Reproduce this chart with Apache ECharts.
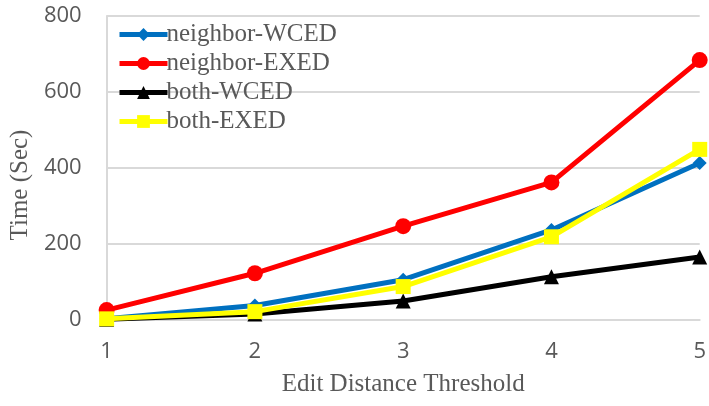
<!DOCTYPE html>
<html><head><meta charset="utf-8">
<script src="https://cdn.jsdelivr.net/npm/echarts@6/dist/echarts.min.js"></script>
<style>html,body{margin:0;padding:0;background:#fff}#c{width:709px;height:406px}</style>
</head><body><div id="c"></div>
<script>
const categories = ['1','2','3','4','5'];
const neighborWCED = [3, 38, 106, 237, 413];
const neighborEXED = [26, 123, 247, 362, 684];
const bothWCED = [2, 16, 50, 114, 166];
const bothEXED = [3, 22, 88, 219, 449];
const yTicks = {min: 0, max: 800, interval: 200};

const chart = echarts.init(document.getElementById('c'));
function mk(name, data, color, symbol, size) {
  return {name, type: 'line', data, symbol, symbolSize: size,
    lineStyle: {color, width: 5}, itemStyle: {color}, z: 2};
}
chart.setOption({
  animation: false,
  grid: {left: 100, right: 8, top: 16, bottom: 86},
  legend: {
    left: 112, top: 17, orient: 'vertical', itemGap: 4,
    itemWidth: 48, itemHeight: 16,
    lineStyle: {width: 5},
    textStyle: {fontFamily: 'Liberation Serif', fontSize: 25, color: '#595959', padding: [0,0,0,-6]},
    data: ['neighbor-WCED','neighbor-EXED','both-WCED','both-EXED']
  },
  xAxis: {
    type: 'category', data: categories, boundaryGap: false,
    name: 'Edit Distance Threshold', nameLocation: 'middle', nameGap: 52,
    nameTextStyle: {fontFamily: 'Liberation Serif', fontSize: 25, color: '#595959'},
    axisLine: {lineStyle: {color: '#d9d9d9', width: 2}},
    axisTick: {show: false},
    axisLabel: {fontFamily: 'Open Sans', fontSize: 22, color: '#595959', margin: 21}
  },
  yAxis: {
    type: 'value', min: yTicks.min, max: yTicks.max, interval: yTicks.interval,
    name: 'Time (Sec)', nameLocation: 'middle', nameGap: 67,
    nameTextStyle: {fontFamily: 'Liberation Serif', fontSize: 25, color: '#595959', padding: [0, 34, 0, 0]},
    axisLine: {show: true, lineStyle: {color: '#d9d9d9', width: 2}},
    axisTick: {show: false},
    splitLine: {lineStyle: {color: '#d9d9d9', width: 2}},
    axisLabel: {fontFamily: 'Open Sans', fontSize: 22, color: '#595959', margin: 25}
  },
  series: [
    mk('neighbor-WCED', neighborWCED, '#0070C0', 'diamond', 14),
    mk('neighbor-EXED', neighborEXED, '#FF0000', 'circle', 16),
    mk('both-WCED', bothWCED, '#000000', 'triangle', 15),
    mk('both-EXED', bothEXED, '#FFFF00', 'rect', 15)
  ]
});
</script></body></html>
